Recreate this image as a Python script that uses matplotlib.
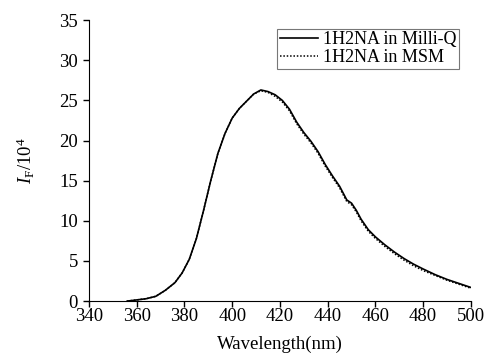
import matplotlib
matplotlib.use("Agg")
import matplotlib.pyplot as plt

plt.rcParams["font.family"] = ["Liberation Serif", "DejaVu Serif"]
plt.rcParams["mathtext.fontset"] = "custom"
plt.rcParams["mathtext.rm"] = "Liberation Serif"
plt.rcParams["mathtext.it"] = "Liberation Serif:italic"

wavelength = [356, 360, 364, 368, 372, 376, 379, 382, 385, 388, 391, 394,
              397, 400, 403, 406, 409, 412, 415, 418, 421, 424, 427, 430,
              433, 436, 439, 442, 445, 448, 450, 452, 454, 457, 460, 464,
              468, 472, 476, 480, 485, 490, 495, 500]
milli_q = [0.0, 0.15, 0.3, 0.6, 1.35, 2.3, 3.5, 5.2, 7.8, 11.3, 15.0, 18.4,
           20.9, 22.8, 24.0, 24.9, 25.8, 26.3, 26.1, 25.7, 25.0, 23.9, 22.3,
           21.0, 19.9, 18.6, 17.0, 15.6, 14.3, 12.6, 12.2, 11.3, 10.2, 8.9,
           8.0, 7.0, 6.1, 5.3, 4.6, 4.0, 3.3, 2.7, 2.2, 1.7]
msm = [0.0, 0.15, 0.3, 0.6, 1.35, 2.3, 3.5, 5.2, 7.8, 11.3, 15.0, 18.4,
       20.9, 22.8, 24.0, 24.9, 25.8, 26.2, 26.0, 25.5, 24.8, 23.7, 22.1,
       20.8, 19.7, 18.4, 16.8, 15.4, 14.1, 12.4, 12.0, 11.1, 10.0, 8.7,
       7.8, 6.8, 5.9, 5.1, 4.4, 3.8, 3.2, 2.6, 2.1, 1.6]

fig = plt.figure(figsize=(4.89, 3.53), dpi=100)
ax = fig.add_axes([0.182, 0.147, 0.781, 0.796])

ax.plot(wavelength, milli_q, color="black", lw=1.2, label="1H2NA in Milli-Q")
ax.plot(wavelength, msm, color="black", lw=1.1, ls=(0, (1, 1.2)),
        label="1H2NA in MSM")

ax.set_xlim(340, 500)
ax.set_ylim(0, 35)
ax.set_xticks(range(340, 501, 20))
ax.set_yticks(range(0, 36, 5))
ax.spines["top"].set_visible(False)
ax.spines["right"].set_visible(False)
ax.tick_params(direction="out", length=4.5, width=1, labelsize=13.5)
ax.tick_params(axis="x", pad=0.5)
ax.tick_params(axis="y", pad=3.5)

ax.set_xlabel("Wavelength(nm)", fontsize=13.5, labelpad=8)
ax.set_ylabel(r"$\mathit{I}_{\mathrm{F}}$/10$^4$", fontsize=13.5, labelpad=16)

leg = ax.legend(loc="upper right", bbox_to_anchor=(0.97, 0.97),
                fontsize=13, frameon=True, fancybox=False,
                handlelength=2.1, handletextpad=0.3, borderpad=0.15,
                labelspacing=0.05, borderaxespad=0)
leg.get_frame().set_edgecolor("#555555")
leg.get_frame().set_linewidth(0.8)

fig.savefig("out.png", dpi=100)
